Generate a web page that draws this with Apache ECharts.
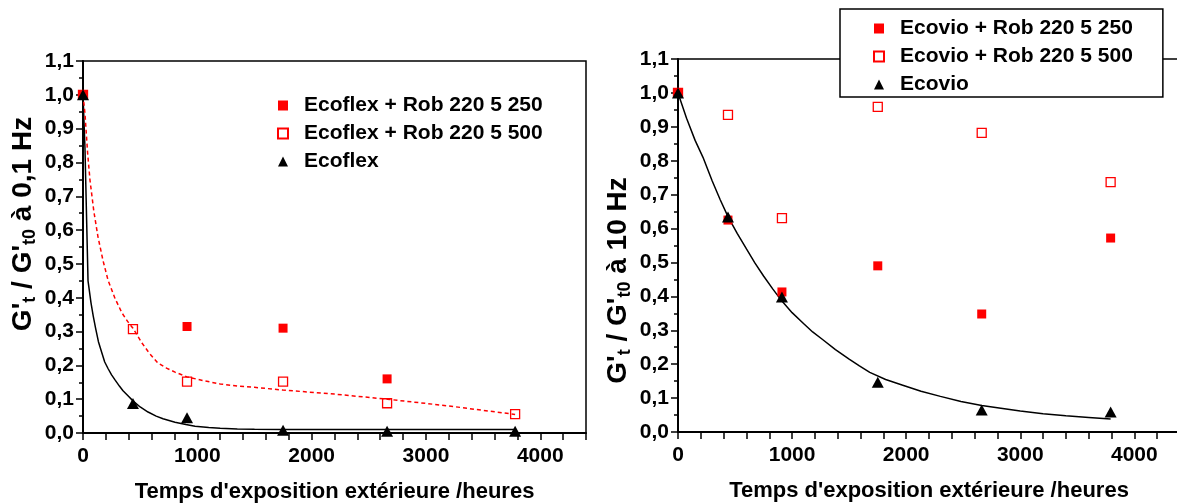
<!DOCTYPE html>
<html><head><meta charset="utf-8">
<script src="https://cdn.jsdelivr.net/npm/echarts@6/dist/echarts.min.js"></script>
<style>html,body{margin:0;padding:0;background:#fff}#c{width:1177px;height:503px}</style>
</head><body><div id="c"></div>
<script>
const FONT = "'Liberation Sans', Arial, sans-serif";

// ---- Left chart: G't/G't0 at 0,1 Hz ----
const leftTimes   = [0, 437, 910, 1750, 2660, 3780];
const ecoflex250  = [1.0, null, 0.315, 0.31, 0.16, null];
const ecoflex500  = [1.0, 0.307, 0.152, 0.152, 0.088, 0.056];
const ecoflexPure = [1.0, 0.087, 0.045, 0.008, 0.005, 0.005];
// fitted curves
const fitEcoflexT = [0, 17, 44, 70, 90, 110, 135, 166, 190, 220, 250, 280, 320, 350, 400, 437, 500, 569, 640, 700, 805, 900, 980, 1100, 1200, 1350, 1500, 1750, 2000, 3000, 3780];
const fitEcoflexV = [1.0, 0.845, 0.45, 0.385, 0.345, 0.31, 0.27, 0.236, 0.21, 0.19, 0.172, 0.157, 0.138, 0.125, 0.108, 0.095, 0.077, 0.062, 0.05, 0.042, 0.032, 0.025, 0.02, 0.016, 0.014, 0.012, 0.011, 0.01, 0.01, 0.01, 0.01];
const fit500T = [0, 17, 40, 61, 95, 131, 175, 219, 280, 341, 390, 437, 516, 580, 656, 730, 805, 910, 1050, 1200, 1350, 1500, 1750, 2200, 2660, 3200, 3780];
const fit500V = [1.0, 0.946, 0.83, 0.748, 0.655, 0.58, 0.51, 0.452, 0.398, 0.355, 0.33, 0.31, 0.266, 0.236, 0.207, 0.192, 0.18, 0.166, 0.155, 0.145, 0.139, 0.135, 0.127, 0.115, 0.10, 0.08, 0.055];

// ---- Right chart: G't/G't0 at 10 Hz ----
const rightTimes = [0, 438, 911, 1751, 2662, 3792];
const ecovio250  = [1.0, 0.625, 0.413, 0.49, 0.348, 0.572];
const ecovio500  = [1.0, 0.935, 0.631, 0.959, 0.882, 0.737];
const ecovioPure = [1.0, 0.634, 0.398, 0.147, 0.065, 0.059];
const fitEcovioT = [0, 75, 150, 219, 300, 370, 438, 520, 600, 675, 750, 830, 911, 1000, 1100, 1180, 1270, 1380, 1500, 1590, 1681, 1820, 1970, 2130, 2300, 2480, 2662, 2830, 3000, 3200, 3400, 3600, 3792];
const fitEcovioV = [1.0, 0.925, 0.86, 0.81, 0.74, 0.685, 0.635, 0.585, 0.54, 0.498, 0.46, 0.422, 0.386, 0.352, 0.32, 0.295, 0.272, 0.243, 0.215, 0.195, 0.176, 0.155, 0.138, 0.12, 0.105, 0.09, 0.078, 0.07, 0.062, 0.054, 0.048, 0.043, 0.038];

// ---- Axes / labels ----
const xMajorTicks = [0, 1000, 2000, 3000, 4000];
const xTitle = "Temps d'exposition extérieure /heures";
const yTitleLeft  = "{n|G'}{s|t}{n| / G'}{s|t0}{n| à 0,1 Hz}";
const yTitleRight = "{n|G'}{s|t}{n| / G'}{s|t0}{n| à 10 Hz}";
const namesLeft  = ['Ecoflex + Rob 220 5 250', 'Ecoflex + Rob 220 5 500', 'Ecoflex'];
const namesRight = ['Ecovio + Rob 220 5 250', 'Ecovio + Rob 220 5 500', 'Ecovio'];

function pairs(xs, ys) { return xs.map((x, i) => [x, ys[i]]).filter(p => p[1] !== null); }

const RED = '#ff0000';
const richName = {
  n: { fontSize: 28, fontWeight: 'bold', fontFamily: FONT, color: '#000', lineHeight: 32 },
  s: { fontSize: 18, fontWeight: 'bold', fontFamily: FONT, color: '#000', lineHeight: 20, verticalAlign: 'bottom' }
};

function xAxis(gi) {
  return {
    type: 'value', gridIndex: gi, min: 0, max: 4400, interval: 200,
    name: xTitle, nameLocation: 'middle', nameGap: 48,
    nameTextStyle: { fontSize: 22, fontWeight: 'bold', fontFamily: FONT, color: '#000' },
    axisLine: { show: true, lineStyle: { color: '#000', width: 2 } },
    axisTick: { show: true, inside: false, length: 7, lineStyle: { color: '#000', width: 1.5 } },
    axisLabel: { margin: 13, fontSize: 21, fontWeight: 'bold', fontFamily: FONT, color: '#000',
      formatter: v => xMajorTicks.includes(v) ? String(v) : '' },
    splitLine: { show: false }
  };
}
function yAxis(gi, title, pad) {
  return {
    type: 'value', gridIndex: gi, min: 0, max: 1.1, interval: 0.1,
    name: title, nameLocation: 'middle', nameGap: 44,
    nameTextStyle: { rich: richName, padding: pad },
    axisLine: { show: true, lineStyle: { color: '#000', width: 2 } },
    axisTick: { show: true, length: 7, lineStyle: { color: '#000', width: 1.5 } },
    minorTick: { show: true, splitNumber: 2, length: 4, lineStyle: { color: '#000', width: 1.5 } },
    axisLabel: { margin: 9, fontSize: 21, fontWeight: 'bold', fontFamily: FONT, color: '#000',
      formatter: v => v.toFixed(1).replace('.', ',') },
    splitLine: { show: false }
  };
}

function scatterSet(names, gi, times, a, b, c) {
  return [
    { name: names[0], type: 'scatter', xAxisIndex: gi, yAxisIndex: gi, symbol: 'rect', symbolSize: 9,
      itemStyle: { color: RED, opacity: 1 }, data: pairs(times, a), z: 3 },
    { name: names[1], type: 'scatter', xAxisIndex: gi, yAxisIndex: gi, symbol: 'rect', symbolSize: 9,
      itemStyle: { color: 'rgba(255,255,255,0)', borderColor: RED, borderWidth: 1.3, opacity: 1 }, data: pairs(times, b), z: 4 },
    { name: names[2], type: 'scatter', xAxisIndex: gi, yAxisIndex: gi, symbol: 'triangle', symbolSize: [12, 11],
      itemStyle: { color: '#000', opacity: 1 }, data: pairs(times, c), z: 5 }
  ];
}
function fitLine(gi, xs, ys, color, type) {
  return { type: 'line', xAxisIndex: gi, yAxisIndex: gi, data: pairs(xs, ys), showSymbol: false, symbol: 'none',
    smooth: false, silent: true, z: 2,
    lineStyle: { color: color, width: 1.5, type: type } };
}

const legendText = { fontSize: 21, fontWeight: 'bold', fontFamily: FONT, color: '#000', lineHeight: 20, padding: [0, 0, 0, 11] };

const option = {
  animation: false,
  backgroundColor: '#fff',
  grid: [
    { left: 83, top: 61, right: 591, bottom: 70, show: true, borderColor: '#000', borderWidth: 1.5,
      backgroundColor: 'transparent', outerBoundsMode: 'none', containLabel: false },
    { left: 678, top: 59, right: -3, bottom: 71, show: true, borderColor: '#000', borderWidth: 1.5,
      backgroundColor: 'transparent', outerBoundsMode: 'none', containLabel: false }
  ],
  xAxis: [xAxis(0), xAxis(1)],
  yAxis: [yAxis(0, yTitleLeft, [0, 0, 0, 46]), yAxis(1, yTitleRight, [0, 70, 0, 0])],
  legend: [
    { data: namesLeft, orient: 'vertical', left: 277, top: 95, itemWidth: 10, itemHeight: 10, itemGap: 7,
      textStyle: legendText, padding: 0, selectedMode: false },
    { data: namesRight, orient: 'vertical', left: 840, top: 9, itemWidth: 10, itemHeight: 10, itemGap: 7,
      textStyle: legendText, padding: [9, 30, 2, 33], borderColor: '#000', borderWidth: 1.5,
      backgroundColor: '#fff', selectedMode: false, z: 10 }
  ],
  series: [
    fitLine(0, fitEcoflexT, fitEcoflexV, '#000', 'solid'),
    fitLine(0, fit500T, fit500V, RED, [4, 3]),
    ...scatterSet(namesLeft, 0, leftTimes, ecoflex250, ecoflex500, ecoflexPure),
    fitLine(1, fitEcovioT, fitEcovioV, '#000', 'solid'),
    ...scatterSet(namesRight, 1, rightTimes, ecovio250, ecovio500, ecovioPure)
  ]
};
const chart = echarts.init(document.getElementById('c'), null, { renderer: 'canvas' });
chart.setOption(option);
</script>
</body></html>
